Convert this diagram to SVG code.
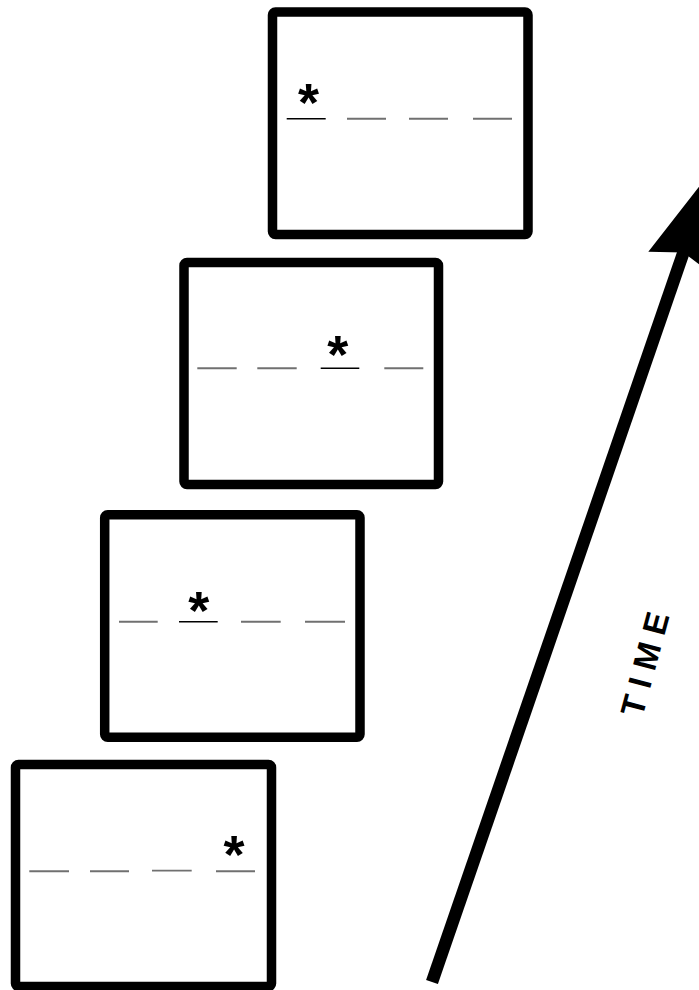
<svg xmlns="http://www.w3.org/2000/svg" width="699" height="990" viewBox="0 0 699 990">
  <style>
    .frame { fill: #ffffff; stroke: #000000; stroke-width: 9.5; stroke-linejoin: round; }
    .slot { stroke: #707070; stroke-width: 1.9; }
    .slot.on { stroke: #000000; stroke-width: 1.5; }
    .star { font-family: "Liberation Sans", Arial, sans-serif; font-weight: bold; font-size: 54px; fill: #000000; text-anchor: middle; }
    .label { font-family: "Liberation Sans", Arial, sans-serif; font-weight: bold; font-size: 33px; fill: #000000; text-anchor: middle; }
  </style>
  <rect width="699" height="990" fill="#ffffff"/>

  <g id="frame-1">
    <rect class="frame" x="272.5" y="12" width="255.5" height="222.5" rx="3"/>
    <line class="slot on" x1="286.7" y1="118.7" x2="325.7" y2="118.7"/>
    <line class="slot" x1="347" y1="118.7" x2="386" y2="118.7"/>
    <line class="slot" x1="409" y1="118.7" x2="448" y2="118.7"/>
    <line class="slot" x1="473" y1="118.7" x2="512" y2="118.7"/>
    <text class="star" x="308.5" y="121">*</text>
  </g>

  <g id="frame-2">
    <rect class="frame" x="184" y="262.5" width="254.5" height="222" rx="3"/>
    <line class="slot" x1="197.3" y1="368.3" x2="236.7" y2="368.3"/>
    <line class="slot" x1="257.3" y1="368.3" x2="296.7" y2="368.3"/>
    <line class="slot on" x1="320.7" y1="368.3" x2="359.3" y2="368.3"/>
    <line class="slot" x1="384.3" y1="368.3" x2="423.3" y2="368.3"/>
    <text class="star" x="337.7" y="373">*</text>
  </g>

  <g id="frame-3">
    <rect class="frame" x="104.7" y="514.7" width="255.3" height="222.6" rx="3"/>
    <line class="slot" x1="119" y1="621.7" x2="157.7" y2="621.7"/>
    <line class="slot on" x1="179" y1="621.7" x2="217.7" y2="621.7"/>
    <line class="slot" x1="241" y1="621.7" x2="280.7" y2="621.7"/>
    <line class="slot" x1="305" y1="621.7" x2="345" y2="621.7"/>
    <text class="star" x="198.8" y="629">*</text>
  </g>

  <g id="frame-4">
    <rect class="frame" x="15.5" y="764.5" width="256" height="222" rx="3"/>
    <line class="slot" x1="29.3" y1="871.3" x2="69" y2="871.3"/>
    <line class="slot" x1="90" y1="871.3" x2="129" y2="871.3"/>
    <line class="slot" x1="152" y1="870.6" x2="191.7" y2="870.6"/>
    <line class="slot" x1="216" y1="871.3" x2="255" y2="871.3"/>
    <text class="star" x="234" y="873">*</text>
  </g>

  <g id="connectors">
    <line x1="432" y1="982" x2="685" y2="248" stroke="#000000" stroke-width="12.5"/>
    <polygon points="712.8,169 648.3,251.7 683.5,252.5 710.8,273.3" fill="#000000"/>
    <text class="label" transform="translate(656,667) rotate(-75)" x="0" y="0">T I M E</text>
  </g>
</svg>
